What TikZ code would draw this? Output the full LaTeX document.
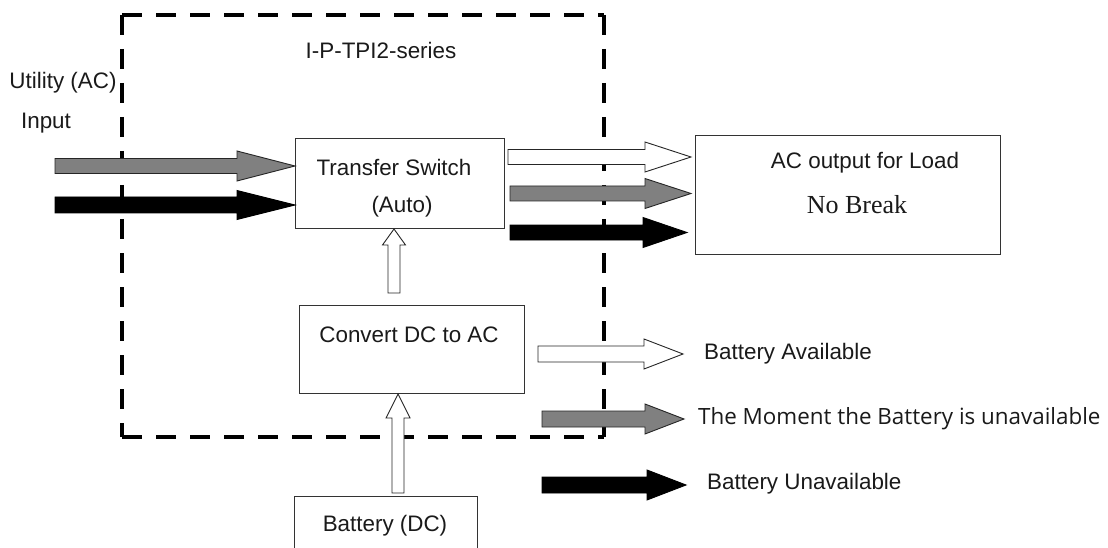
\documentclass[tikz,border=0pt]{standalone}
\usepackage{fontspec}
\setmainfont{Liberation Sans}
\newfontfamily\serifnb{Liberation Serif}
\newfontfamily\segoe{Open Sans}
\usetikzlibrary{calc}
\newcommand\harrow[6]{%
  \path[#1] let \p1=(#2), \p2=(#3) in
    (\x1,\y1+#4) -- (\x2-#6,\y1+#4) -- (\x2-#6,\y1+#5) -- (\x2,\y1)
    -- (\x2-#6,\y1-#5) -- (\x2-#6,\y1-#4) -- (\x1,\y1-#4) -- cycle;}
\newcommand\varrow[6]{%
  \path[#1] let \p1=(#2), \p2=(#3) in
    (\x1-#4,\y1) -- (\x1-#4,\y2-#6) -- (\x1-#5,\y2-#6) -- (\x1,\y2)
    -- (\x1+#5,\y2-#6) -- (\x1+#4,\y2-#6) -- (\x1+#4,\y1) -- cycle;}
\definecolor{txt}{HTML}{1A1A1A}
\tikzset{
  box/.style={draw=black!80, line width=1pt, inner sep=0pt, anchor=north west},
  lbl/.style={font=\fontsize{22.4}{26}\selectfont, text=txt, inner sep=0pt},
  hollow/.style={draw=black!85, fill=white, line width=0.9pt},
  grayarr/.style={draw=black!85, fill=black!50, line width=0.9pt},
  blackarr/.style={draw=black, fill=black, line width=0.9pt},
  frame/.style={line width=4.5pt, dash pattern=on 20pt off 14pt},
}
\begin{document}
\begin{tikzpicture}[x=1pt,y=-1pt]
\clip (0,0) rectangle (1108,548);
\fill[white] (0,0) rectangle (1108,548);
% dashed enclosure
\draw[frame] (122,15) -- (604,15);
\draw[frame] (122,15) -- (122,437);
\draw[frame] (604,15) -- (604,437);
\draw[frame] (122,437) -- (604,437);
\node[lbl] (title) at (381,50) {I-P-TPI2-series};
\node[lbl] (util) at (63,83) {Utility (AC)};
\node[lbl] (inp) at (46,123) {Input};
% boxes
\node[box, minimum width=209pt, minimum height=90pt] (ts) at (295,138) {};
\node[lbl] (tst1) at (394,167) {Transfer Switch};
\node[lbl] (tst2) at (402,207) {(Auto)};
\node[box, minimum width=305pt, minimum height=119pt] (ac) at (695,135) {};
\node[lbl] (act1) at (865,163) {AC output for Load};
\node[lbl, font=\serifnb\fontsize{26}{30}\selectfont] (act2) at (857,205) {No Break};
\node[box, minimum width=225pt, minimum height=88pt] (cv) at (299,305) {};
\node[lbl] (cvt) at (409,335) {Convert DC to AC};
\node[box, minimum width=183pt, minimum height=80pt] (bat) at (294,496) {};
\node[lbl] (batt) at (385,526) {Battery (DC)};
% input arrows
\coordinate (in1) at (55,166);
\coordinate (in2) at (55,205);
\harrow{grayarr}{in1}{ts.west}{7.5pt}{15pt}{58pt}
\harrow{blackarr}{in2}{ts.west}{8pt}{14.5pt}{58pt}
% output arrows
\coordinate (o1) at (508,157);
\coordinate (o2) at (510,193.5);
\coordinate (o3) at (510,232.5);
\coordinate (oe) at ($(ac.west)+(-4,0)$);
\coordinate (oe3) at ($(ac.west)+(-8,0)$);
\harrow{hollow}{o1}{oe}{7.5pt}{15pt}{46pt}
\harrow{grayarr}{o2}{oe}{7.5pt}{15pt}{46pt}
\harrow{blackarr}{o3}{oe3}{7.5pt}{15pt}{44pt}
% vertical arrows
\coordinate (v1) at (394,293);
\coordinate (v2) at (398,493);
\varrow{hollow}{v1}{ts.south}{6pt}{11.5pt}{16pt}
\varrow{hollow}{v2}{cv.south}{6pt}{12pt}{24pt}
% legend
\node[lbl, anchor=west] (l1) at (704,354) {Battery Available};
\node[lbl, anchor=west, font=\segoe\fontsize{22.4}{26}\selectfont] (l2) at (698,419) {The Moment the Battery is unavailable};
\node[lbl, anchor=west] (l3) at (707,484) {Battery Unavailable};
\coordinate (s1) at (538,354);
\coordinate (s2) at (542,419);
\coordinate (s3) at (542,485);
\coordinate (e1) at (683,354);
\coordinate (e2) at (684,419);
\coordinate (e3) at (686,485);
\harrow{hollow}{s1}{e1}{8pt}{15pt}{39pt}
\harrow{grayarr}{s2}{e2}{8pt}{15pt}{39pt}
\harrow{blackarr}{s3}{e3}{8pt}{15pt}{39pt}
\end{tikzpicture}
\end{document}
